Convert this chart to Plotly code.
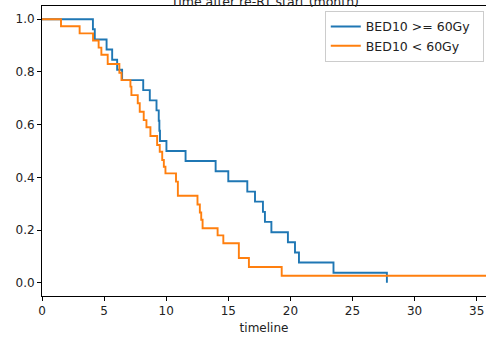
import plotly.graph_objects as go

# Kaplan-Meier step data
high_time = [0, 4.1, 4.25, 5.2, 5.65, 6.05, 6.45, 8.15, 8.68, 9.22, 9.40, 9.45, 9.5,
             10.02, 11.56, 13.98, 15.0, 16.53, 17.15, 17.79, 17.95, 18.47, 19.8,
             20.37, 20.69, 23.47, 27.77]
high_surv = [1.0, 0.962, 0.923, 0.885, 0.846, 0.808, 0.769, 0.731, 0.692, 0.654, 0.615,
             0.577, 0.538, 0.500, 0.462, 0.423, 0.385, 0.346, 0.308, 0.269, 0.231,
             0.192, 0.154, 0.115, 0.077, 0.038, 0.0]

low_time = [0, 1.53, 3.03, 4.11, 4.56, 4.78, 5.29, 6.23, 6.40, 7.12, 7.20, 7.71, 7.87,
            8.19, 8.41, 8.73, 9.27, 9.48, 9.68, 9.81, 9.94, 10.79, 10.94, 12.52, 12.71,
            12.82, 12.93, 14.14, 14.6, 15.85, 16.66, 19.3, 36.0]
low_surv = [1.0, 0.973, 0.946, 0.919, 0.892, 0.865, 0.830, 0.797, 0.769, 0.744, 0.712,
            0.681, 0.649, 0.617, 0.590, 0.557, 0.523, 0.497, 0.466, 0.440, 0.415, 0.384,
            0.330, 0.297, 0.267, 0.239, 0.207, 0.180, 0.150, 0.094, 0.060, 0.027, 0.027]

series_names = ["BED10 >= 60Gy", "BED10 < 60Gy"]
x_ticks = [0, 5, 10, 15, 20, 25, 30, 35]
y_ticks = [0.0, 0.2, 0.4, 0.6, 0.8, 1.0]

FONT = "DejaVu Sans"
PAD = "\u00a0\u00a0"

fig = go.Figure()
fig.add_trace(go.Scatter(x=high_time, y=high_surv, mode="lines", name=series_names[0] + PAD,
                         line=dict(shape="hv", color="#1f77b4", width=1.9)))
fig.add_trace(go.Scatter(x=low_time, y=low_surv, mode="lines", name=series_names[1] + PAD,
                         line=dict(shape="hv", color="#ff7f0e", width=1.9)))

axis_common = dict(showgrid=False, zeroline=False, showline=True, mirror=True,
                   linecolor="black", linewidth=1, ticks="outside", ticklen=4,
                   tickcolor="black", automargin=False,
                   tickfont=dict(family=FONT, size=12, color="#222"))

fig.update_layout(
    width=486, height=340,
    margin=dict(l=42, r=0, t=6, b=44),
    paper_bgcolor="white", plot_bgcolor="white",
    font=dict(family=FONT, size=12, color="#222"),
    xaxis=dict(range=[0, 35.75], tickvals=x_ticks,
               title=dict(text="timeline", font=dict(family=FONT, size=12, color="#222"),
                          standoff=6),
               **axis_common),
    yaxis=dict(range=[-0.05, 1.05], tickvals=y_ticks, tickformat=".1f", **axis_common),
    legend=dict(x=0.995, y=0.983, xanchor="right", yanchor="top",
                bgcolor="white", bordercolor="#cccccc", borderwidth=1,
                font=dict(family=FONT, size=12.5, color="#222"),
                tracegroupgap=0, itemwidth=30),
    showlegend=True,
    annotations=[dict(text="Time after re-RT start (month)", xref="paper", yref="paper",
                      x=0.5, y=1.0, yanchor="bottom", xanchor="center", yshift=-5,
                      showarrow=False, font=dict(family=FONT, size=12.5, color="#222"))],
)

fig.write_html("out.html", config={"displayModeBar": False},
               post_script="document.body.style.margin='0';document.body.style.overflow='hidden';")
